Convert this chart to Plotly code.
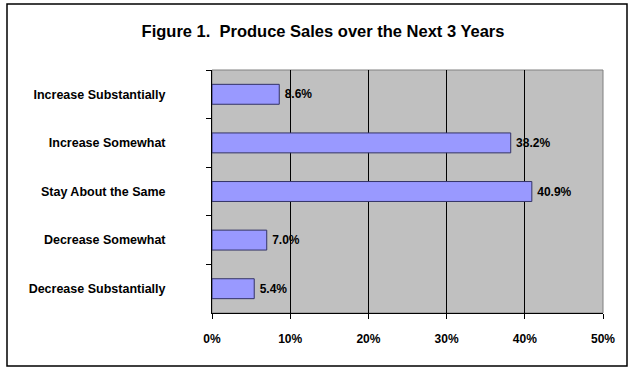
import plotly.graph_objects as go

# Survey responses, listed top to bottom
categories = [
    "Increase Substantially",
    "Increase Somewhat",
    "Stay About the Same",
    "Decrease Somewhat",
    "Decrease Substantially",
]
shares = [8.6, 38.2, 40.9, 7.0, 5.4]
x_ticks = [0, 10, 20, 30, 40, 50]
x_tick_labels = ["0%", "10%", "20%", "30%", "40%", "50%"]

FONT = "Arial, Liberation Sans, sans-serif"
W, H = 631, 368
ML, MR, MT, MB = 212, 28, 70, 55
pw, ph = W - ML - MR, H - MT - MB


def px_x(x):
    return (x - ML) / pw


def px_y(y):
    return (MT + ph - y) / ph


fig = go.Figure(
    go.Bar(
        x=shares,
        y=categories,
        orientation="h",
        width=0.41,
        marker=dict(color="#9999FF", line=dict(color="#333366", width=1)),
        text=[f"{v:.1f}%" for v in shares],
        texttemplate="\u2009%{text}",
        textposition="outside",
        textfont=dict(family=FONT, size=12, color="#000000", weight="bold"),
        cliponaxis=False,
    )
)

fig.update_layout(
    width=W,
    height=H,
    margin=dict(l=ML, r=MR, t=MT, b=MB),
    paper_bgcolor="#FFFFFF",
    plot_bgcolor="#C0C0C0",
    showlegend=False,
    title=dict(
        text="<b>Figure 1.  Produce Sales over the Next 3 Years</b>",
        x=323 / W,
        xref="container",
        xanchor="center",
        y=1 - 31.5 / H,
        yref="container",
        yanchor="middle",
        font=dict(family=FONT, size=16.5, color="#000000"),
    ),
    xaxis=dict(
        range=[0, 50],
        tickvals=x_ticks,
        ticktext=x_tick_labels,
        ticks="outside",
        ticklen=5,
        tickcolor="#000000",
        showline=True,
        linecolor="#000000",
        linewidth=1,
        showgrid=True,
        gridcolor="#000000",
        gridwidth=1,
        zeroline=False,
        tickfont=dict(family=FONT, size=12, color="#000000", weight="bold"),
        ticklabelstandoff=10,
        fixedrange=True,
    ),
    yaxis=dict(
        type="category",
        categoryorder="array",
        categoryarray=categories,
        autorange="reversed",
        tickson="boundaries",
        ticks="outside",
        ticklen=5,
        tickcolor="#000000",
        showline=True,
        linecolor="#000000",
        linewidth=1,
        showgrid=False,
        tickfont=dict(family=FONT, size=12.5, color="#000000", weight="bold"),
        ticklabelstandoff=43,
        fixedrange=True,
    ),
    shapes=[
        # plot-area frame
        dict(type="rect", xref="paper", yref="paper", x0=0, x1=1, y0=0, y1=1,
             line=dict(color="#808080", width=1), layer="below"),
        # outer chart border
        dict(type="rect", xref="paper", yref="paper",
             x0=px_x(7), x1=px_x(627), y0=px_y(366), y1=px_y(4),
             line=dict(color="#000000", width=1.5)),
    ],
)

fig.write_html("out.html")
